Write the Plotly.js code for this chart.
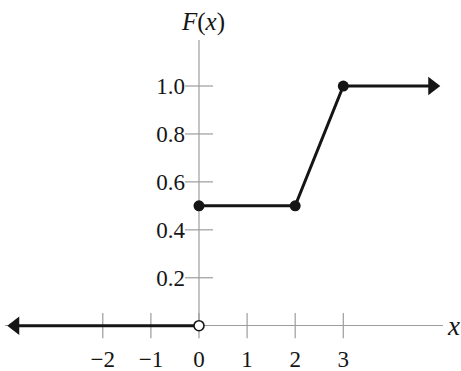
<!DOCTYPE html>
<html>
<head>
<meta charset="utf-8">
<script src="https://cdn.plot.ly/plotly-3.0.1.min.js"></script>
<style>
  html, body { margin: 0; padding: 0; background: #fff; }
  #chart { width: 461px; height: 371px; }
</style>
</head>
<body>
<div id="chart"></div>
<script>
// step/ramp CDF
let leftX = [-3.82, 0];
let leftY = [0, 0];
let mainX = [0, 2, 3, 4.85];
let mainY = [0.5, 0.5, 1.0, 1.0];
let dotX = [0, 2, 3];
let dotY = [0.5, 0.5, 1.0];
let openX = [0];
let openY = [0];

let xTicks = [-2, -1, 0, 1, 2, 3];
let yTicks = [0.2, 0.4, 0.6, 0.8, 1.0];

let xRange = [-4.033, 5.073];
let yRange = [-0.189, 1.192];

let ink = "#151515";
let axisGray = "#9c9c9c";
let serif = "'Liberation Serif', 'Times New Roman', Times, serif";

let data = [
  // tick marks crossing the axes
  {
    x: xTicks,
    y: xTicks.map(() => 0),
    type: "scatter",
    mode: "markers",
    marker: { symbol: "line-ns", size: 18, line: { color: axisGray, width: 1.2 } },
    hoverinfo: "skip",
  },
  {
    x: yTicks.map(() => 0),
    y: yTicks,
    type: "scatter",
    mode: "markers",
    marker: { symbol: "line-ew", size: 20, line: { color: axisGray, width: 1.2 } },
    hoverinfo: "skip",
  },
  {
    x: leftX,
    y: leftY,
    type: "scatter",
    mode: "lines",
    line: { color: ink, width: 3 },
  },
  {
    x: mainX,
    y: mainY,
    type: "scatter",
    mode: "lines",
    line: { color: ink, width: 3 },
  },
  {
    x: [leftX[0]],
    y: [leftY[0]],
    type: "scatter",
    mode: "markers",
    marker: { symbol: "triangle-left", size: 16, color: ink },
  },
  {
    x: [mainX[mainX.length - 1]],
    y: [mainY[mainY.length - 1]],
    type: "scatter",
    mode: "markers",
    marker: { symbol: "triangle-right", size: 16, color: ink },
  },
  {
    x: dotX,
    y: dotY,
    type: "scatter",
    mode: "markers",
    marker: { size: 11, color: ink },
  },
  {
    x: openX,
    y: openY,
    type: "scatter",
    mode: "markers",
    marker: { size: 10, color: "#fff", line: { color: ink, width: 1.6 } },
  },
];

let layout = {
  width: 461,
  height: 371,
  margin: { l: 5, r: 18, t: 40, b: 0 },
  paper_bgcolor: "#fff",
  plot_bgcolor: "#fff",
  showlegend: false,
  font: { family: serif, color: ink, size: 23 },
  xaxis: {
    range: xRange,
    anchor: "free",
    position: (0 - yRange[0]) / (yRange[1] - yRange[0]),
    showgrid: false,
    zeroline: false,
    showline: false,
    ticks: "",
    tickvals: xTicks,
    tickfont: { family: serif, size: 23, color: ink },
    ticklabelstandoff: 17,
  },
  yaxis: {
    range: yRange,
    anchor: "free",
    position: (0 - xRange[0]) / (xRange[1] - xRange[0]),
    showgrid: false,
    zeroline: true,
    zerolinecolor: axisGray,
    zerolinewidth: 1.2,
    showline: false,
    ticks: "",
    tickvals: yTicks,
    tickformat: ".1f",
    tickfont: { family: serif, size: 23, color: ink },
    ticklabelstandoff: 14,
  },
  shapes: [
    {
      type: "line",
      xref: "x",
      yref: "y",
      x0: 0,
      x1: 0,
      y0: 0,
      y1: yRange[1],
      line: { color: axisGray, width: 1.2 },
      layer: "below",
    },
  ],
  annotations: [
    {
      text: "<i>F</i>(<i>x</i>)",
      xref: "x",
      yref: "paper",
      x: 0.08,
      y: 1,
      yanchor: "bottom",
      yshift: 2,
      showarrow: false,
      font: { family: serif, size: 25, color: ink },
    },
    {
      text: "<i>x</i>",
      xref: "paper",
      yref: "y",
      x: 1,
      y: 0,
      xanchor: "left",
      xshift: 2,
      showarrow: false,
      font: { family: serif, size: 27, color: ink },
    },
  ],
};

Plotly.newPlot("chart", data, layout, { displayModeBar: false, staticPlot: true });
</script>
</body>
</html>
